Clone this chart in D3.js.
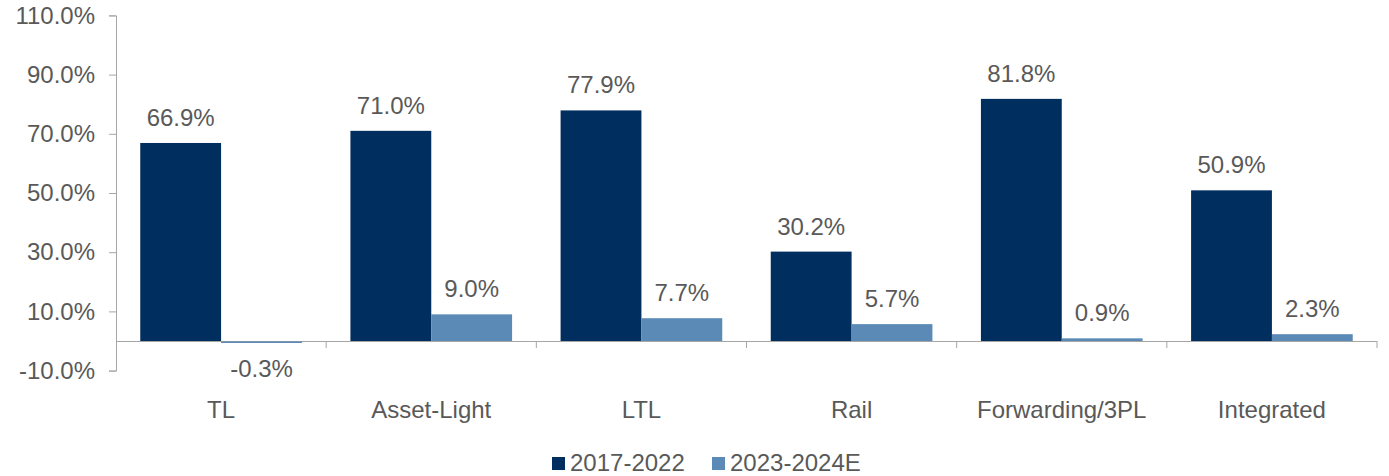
<!DOCTYPE html>
<html>
<head>
<meta charset="utf-8">
<script src="https://cdn.jsdelivr.net/npm/d3@7"></script>
<style>
  body { margin: 0; background: #fff; }
  svg text { font-family: "Liberation Sans", Arial, sans-serif; fill: #595959; }
</style>
</head>
<body>
<div id="chart"></div>
<script>
// data
var categories = ["TL", "Asset-Light", "LTL", "Rail", "Forwarding/3PL", "Integrated"];
var seriesNames = ["2017-2022", "2023-2024E"];
var values2017 = [66.9, 71.0, 77.9, 30.2, 81.8, 50.9];
var values2023 = [-0.3, 9.0, 7.7, 5.7, 0.9, 2.3];
var yTicks = [-10, 10, 30, 50, 70, 90, 110];
var colors = ["#002e5f", "#5a8ab5"];

var width = 1389, height = 476;
var fontSize = 24;

var svg = d3.select("#chart").append("svg")
  .attr("width", width)
  .attr("height", height);

var x0 = d3.scaleBand()
  .domain(categories)
  .range([116, 1377])
  .paddingInner(0)
  .paddingOuter(0);

var x1 = d3.scaleBand()
  .domain(seriesNames)
  .range([0, x0.bandwidth()])
  .paddingInner(0)
  .paddingOuter(0.3);

var y = d3.scaleLinear()
  .domain([-10, 110])
  .range([370.6, 15.4]);

var rows = categories.map(function (c, i) {
  return { cat: c, vals: [
    { s: seriesNames[0], v: values2017[i] },
    { s: seriesNames[1], v: values2023[i] }
  ]};
});

// y axis
var yAxis = d3.axisLeft(y).tickValues(yTicks).tickSize(7).tickPadding(14)
  .tickFormat(function (d) { return d.toFixed(1) + "%"; });
var gy = svg.append("g")
  .attr("transform", "translate(116,0)")
  .call(yAxis);
gy.select(".domain").attr("stroke", "#a6a6a6");
gy.selectAll(".tick line").attr("stroke", "#a6a6a6");
gy.selectAll(".tick text").style("font-size", fontSize + "px").attr("fill", "#595959");

// x axis at zero (drawn under the bars)
var xAxis = d3.axisBottom(x0).tickSize(0).tickFormat("");
var gx = svg.append("g")
  .attr("transform", "translate(0," + y(0) + ")")
  .call(xAxis);
gx.select(".domain").attr("stroke", "#a6a6a6").attr("d", "M116,0.5H1377");
var bounds = categories.map(function (c) { return x0(c); }).concat([x0.range()[1]]);
gx.selectAll(".bnd")
  .data(bounds.slice(1))
  .enter().append("line")
  .attr("x1", function (d) { return d; })
  .attr("x2", function (d) { return d; })
  .attr("y1", 0).attr("y2", 7)
  .attr("stroke", "#a6a6a6");

// bars
var groups = svg.selectAll(".grp")
  .data(rows)
  .enter().append("g")
  .attr("class", "grp")
  .attr("transform", function (d) { return "translate(" + x0(d.cat) + ",0)"; });

groups.selectAll("rect")
  .data(function (d) { return d.vals; })
  .enter().append("rect")
  .attr("x", function (d) { return x1(d.s); })
  .attr("width", x1.bandwidth())
  .attr("y", function (d) { return d.v >= 0 ? y(d.v) : y(0) + 0.5; })
  .attr("height", function (d) { return Math.max(1.5, Math.abs(y(d.v) - y(0))); })
  .attr("fill", function (d, i) { return colors[i]; });

groups.selectAll(".val")
  .data(function (d) { return d.vals; })
  .enter().append("text")
  .attr("class", "val")
  .attr("x", function (d) { return x1(d.s) + x1.bandwidth() / 2; })
  .attr("y", function (d) { return d.v >= 0 ? y(d.v) - 17 : y(d.v) + 35; })
  .attr("text-anchor", "middle")
  .style("font-size", fontSize + "px")
  .text(function (d) { return d.v.toFixed(1) + "%"; });

// category labels
svg.selectAll(".cat")
  .data(categories)
  .enter().append("text")
  .attr("class", "cat")
  .attr("x", function (d) { return x0(d) + x0.bandwidth() / 2; })
  .attr("y", 418)
  .attr("text-anchor", "middle")
  .style("font-size", fontSize + "px")
  .text(function (d) { return d; });

// legend
var legendX = [552, 712];
var leg = svg.selectAll(".leg")
  .data(seriesNames)
  .enter().append("g")
  .attr("class", "leg")
  .attr("transform", function (d, i) { return "translate(" + legendX[i] + ",457)"; });
leg.append("rect")
  .attr("width", 13).attr("height", 13)
  .attr("fill", function (d, i) { return colors[i]; });
leg.append("text")
  .attr("x", 18).attr("y", 14)
  .style("font-size", fontSize + "px")
  .text(function (d) { return d; });
</script>
</body>
</html>
